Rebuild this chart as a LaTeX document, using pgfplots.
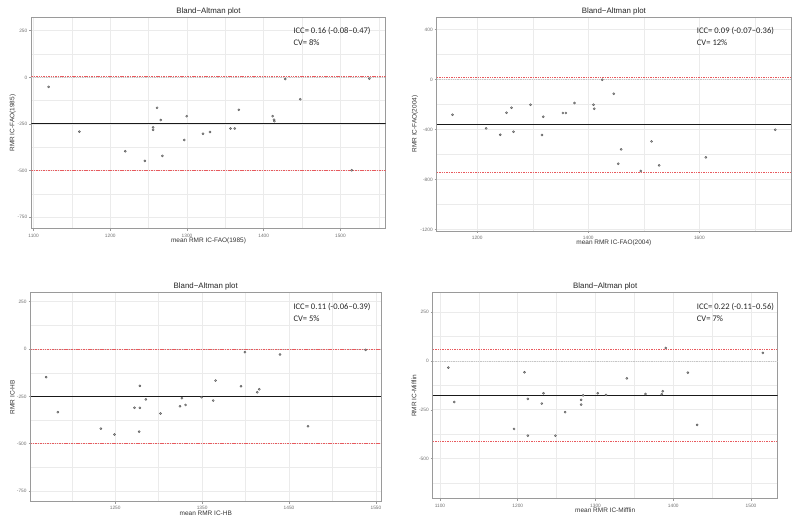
\documentclass[border=0pt]{standalone}
\usepackage{fontspec}
\setmainfont{Liberation Sans}
\newfontfamily\carlito{Carlito}
\usepackage{pgfplots}
\pgfplotsset{compat=1.18}

\definecolor{gridc}{HTML}{EBEBEB}
\definecolor{framec}{HTML}{9A9A9A}
\definecolor{ticklab}{HTML}{707070}
\definecolor{loa}{HTML}{E85A5E}
\definecolor{ptfill}{HTML}{B8B8B8}
\definecolor{ptdraw}{HTML}{5A5A5A}

\pgfplotsset{ba/.style={
  scale only axis,
  anchor=north west,
  axis line style={framec, line width=0.9bp},
  grid=both,
  major grid style={gridc, line width=0.7bp},
  minor grid style={gridc, line width=0.4bp},
  tick style={framec, line width=0.6bp},
  tick align=outside,
  major tick length=2bp,
  minor tick length=0pt,
  xtick pos=bottom, ytick pos=left,
  ticklabel style={font=\fontsize{4.8}{5}\selectfont, text=ticklab},
  yticklabel style={xshift=1.5bp},
  xticklabel style={yshift=0.5bp},
  /pgf/number format/assume math mode=true,
  /pgf/number format/1000 sep={},
  label style={font=\fontsize{6.5}{7}\selectfont, text=black!80},
  every axis title/.style={at={(0.5,1)}, anchor=base, yshift=3.9bp, font=\fontsize{7.9}{8}\selectfont, text=black!85},
  title={Bland\textminus Altman plot},
  clip=true,
}}
\pgfplotsset{pts/.style={only marks, mark=*, mark size=1.05bp, mark options={fill=ptfill, draw=ptdraw, line width=0.45bp}}}
\pgfplotsset{meanl/.style={black!90, line width=1.1bp}}
\pgfplotsset{loal/.style={color=loa, line width=0.75bp, dash pattern=on 1.5bp off 0.9bp}}
\pgfplotsset{zerol/.style={color=gray!45, line width=0.6bp, dash pattern=on 0.9bp off 0.9bp}}

\begin{document}
\begin{tikzpicture}
\path[use as bounding box] (0,0) rectangle (799bp,-523bp);

% ---------- Panel 1 ----------
\begin{axis}[ba, at={(31.3bp,-17.5bp)}, width=354.4bp, height=211.3bp,
  xmin=1097, xmax=1559, ymin=-812, ymax=321,
  xtick={1100,1200,1300,1400,1500}, minor xtick={1150,1250,1350,1450,1550},
  ytick={-750,-500,-250,0,250}, minor ytick={-625,-375,-125,125},
  xlabel={mean RMR IC-FAO(1985)}, ylabel={RMR IC-FAO(1985)},
  xlabel style={at={([yshift=-11.9bp]axis description cs:0.5,0)}, anchor=center},
  ylabel style={at={([xshift=-18.6bp]axis description cs:0,0.5)}, anchor=center}]
\addplot[zerol] coordinates {(1097,0) (1559,0)};
\addplot[loal] coordinates {(1097,3) (1559,3)};
\addplot[loal] coordinates {(1097,-498) (1559,-498)};
\addplot[meanl] coordinates {(1097,-247) (1559,-247)};
\addplot[pts] coordinates {
(1119.5,-51) (1159.7,-291) (1219.5,-396) (1245,-448) (1255.8,-268) (1255.8,-281)
(1261,-163) (1265.8,-229) (1268,-421) (1296.5,-336) (1299.6,-208) (1320.8,-302)
(1329.9,-293) (1356.7,-274) (1362.3,-274) (1367.5,-174) (1411.7,-208) (1413.4,-227)
(1413.9,-235) (1428.1,-9) (1447.6,-117) (1514.7,-498) (1537.7,-7)};
\end{axis}

% ---------- Panel 2 ----------
\begin{axis}[ba, at={(436.7bp,-17bp)}, width=354.3bp, height=214bp,
  xmin=1127, xmax=1765, ymin=-1213, ymax=499,
  xtick={1200,1400,1600}, minor xtick={1300,1500,1700},
  ytick={-1200,-800,-400,0,400}, minor ytick={-1000,-600,-200,200},
  xlabel={mean RMR IC-FAO(2004)}, ylabel={RMR IC-FAO(2004)},
  xlabel style={at={([yshift=-11.9bp]axis description cs:0.5,0)}, anchor=center},
  ylabel style={at={([xshift=-21.7bp]axis description cs:0,0.5)}, anchor=center}]
\addplot[zerol] coordinates {(1127,0) (1765,0)};
\addplot[loal] coordinates {(1127,13) (1765,13)};
\addplot[loal] coordinates {(1127,-747) (1765,-747)};
\addplot[meanl] coordinates {(1127,-363) (1765,-363)};
\addplot[pts] coordinates {
(1155.6,-283) (1216.2,-392) (1241.4,-443) (1252.8,-267) (1261.8,-227) (1265.4,-419)
(1296,-203) (1316.4,-445) (1318.8,-299) (1354.2,-269) (1359.6,-269) (1375.2,-189)
(1409.4,-203) (1410.6,-235) (1425,-3) (1446,-115) (1453.8,-675) (1459.2,-560)
(1494.6,-733) (1513.8,-496) (1527.6,-688) (1611.5,-624) (1736.8,-403)};
\end{axis}

% ---------- Panel 3 ----------
\begin{axis}[ba, at={(30.5bp,-292.7bp)}, width=350.5bp, height=208.8bp,
  xmin=1152.6, xmax=1555.8, ymin=-805, ymax=298,
  xtick={1250,1350,1450,1550}, minor xtick={1200,1300,1400,1500},
  ytick={-750,-500,-250,0,250}, minor ytick={-625,-375,-125,125},
  xlabel={mean RMR IC-HB}, ylabel={RMR IC-HB},
  xlabel style={at={([yshift=-11.9bp]axis description cs:0.5,0)}, anchor=center},
  ylabel style={at={([xshift=-18.2bp]axis description cs:0,0.5)}, anchor=center}]
\addplot[zerol] coordinates {(1152.6,0) (1555.8,0)};
\addplot[loal] coordinates {(1152.6,-1) (1555.8,-1)};
\addplot[loal] coordinates {(1152.6,-499) (1555.8,-499)};
\addplot[meanl] coordinates {(1152.6,-252) (1555.8,-252)};
\addplot[pts] coordinates {
(1170.6,-148) (1184,-333) (1233.5,-420) (1249.2,-451) (1272.2,-310) (1277.6,-436)
(1278.4,-194) (1278.4,-310) (1285.3,-266) (1302.2,-340) (1324.5,-302) (1326.8,-259)
(1331,-295) (1349.4,-254) (1362.8,-272) (1365.5,-166) (1394.7,-196) (1399.3,-16)
(1413.5,-228) (1415.8,-212) (1439.6,-28) (1471.8,-407) (1538.2,-4)};
\end{axis}

% ---------- Panel 4 ----------
\begin{axis}[ba, at={(432.7bp,-292.7bp)}, width=345bp, height=206bp,
  xmin=1090.6, xmax=1534.3, ymin=-704.5, ymax=349,
  xtick={1100,1200,1300,1400,1500}, minor xtick={1150,1250,1350,1450},
  ytick={-500,-250,0,250}, minor ytick={-625,-375,-125,125},
  xlabel={mean RMR IC-Mifflin}, ylabel={RMR IC-Mifflin},
  xlabel style={at={([yshift=-11.9bp]axis description cs:0.5,0)}, anchor=center},
  ylabel style={at={([xshift=-18.7bp]axis description cs:0,0.5)}, anchor=center}]
\addplot[zerol] coordinates {(1090.6,0) (1534.3,0)};
\addplot[loal] coordinates {(1090.6,60) (1534.3,60)};
\addplot[loal] coordinates {(1090.6,-411) (1534.3,-411)};
\addplot[meanl] coordinates {(1090.6,-176) (1534.3,-176)};
\addplot[pts] coordinates {
(1110.7,-34) (1118.4,-210) (1195.3,-348) (1208.6,-58) (1212.9,-194) (1212.9,-382)
(1230.9,-218) (1233.1,-165) (1248.5,-382) (1260.9,-262) (1281.5,-199) (1281.5,-223)
(1284.1,-176) (1302.9,-165) (1313.6,-174) (1340.2,-89) (1364.2,-169) (1385.2,-170)
(1386.5,-155) (1390.4,66) (1418.7,-60) (1430.7,-327) (1515.2,41)};
\end{axis}

% ---------- annotations ----------
\begin{scope}[every node/.style={anchor=west, inner sep=0pt, font=\carlito\fontsize{8.6}{9}\selectfont, text=black!85}]
\node at (293.3bp,-30.7bp) {ICC= 0.16 (-0.08–0.47)};
\node at (293.3bp,-42.3bp) {CV= 8\%};
\node at (696.7bp,-30.7bp) {ICC= 0.09 (-0.07–0.36)};
\node at (696.7bp,-42.3bp) {CV= 12\%};
\node at (293.3bp,-306.7bp) {ICC= 0.11 (-0.06–0.39)};
\node at (293.3bp,-318.7bp) {CV= 5\%};
\node at (696.7bp,-306.7bp) {ICC= 0.22 (-0.11–0.56)};
\node at (696.7bp,-318.7bp) {CV= 7\%};
\end{scope}
\end{tikzpicture}
\end{document}
